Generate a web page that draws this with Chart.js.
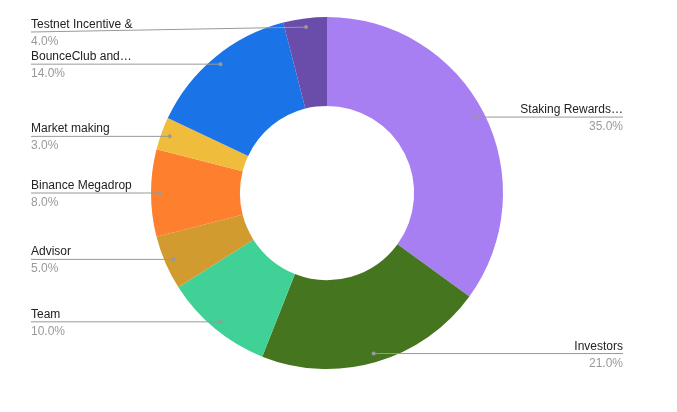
<!DOCTYPE html>
<html>
<head>
<meta charset="utf-8">
<script src="https://cdn.jsdelivr.net/npm/chart.js@4"></script>
<style>
  body { margin: 0; background: #fff; }
  #wrap { width: 677px; height: 412px; }
</style>
</head>
<body>
<div id="wrap"><canvas id="grafico"></canvas></div>
<script>
const etiquetas = ['Staking Rewards\u2026', 'Investors', 'Team', 'Advisor', 'Binance Megadrop', 'Market making', 'BounceClub and\u2026', 'Testnet Incentive &'];
const valores = [35, 21, 10, 5, 8, 3, 14, 4];
const colores = ['#a77ff2', '#45761f', '#3fd195', '#d29b2f', '#fe7f2e', '#f0bc3c', '#1b73e8', '#6a4caa'];

// leader lines + labels, Google Sheets style
const etiquetasPlugin = {
    id: 'etiquetas',
    afterDraw(chart) {
        const ctx = chart.ctx;
        const meta = chart.getDatasetMeta(0);
        const total = valores.reduce((a, b) => a + b, 0);
        ctx.save();
        meta.data.forEach((arc, i) => {
            const ang = (arc.startAngle + arc.endAngle) / 2;
            const r = arc.outerRadius * 0.95;
            const dx = arc.x + Math.cos(ang) * r;
            const dy = arc.y + Math.sin(ang) * r;
            const derecha = dx > arc.x;
            const ly = Math.max(32, dy);
            const lx = derecha ? 623 : 31;
            ctx.strokeStyle = '#999';
            ctx.lineWidth = 1;
            ctx.beginPath();
            ctx.moveTo(dx, dy);
            ctx.lineTo(lx, ly);
            ctx.stroke();
            ctx.fillStyle = '#999';
            ctx.beginPath();
            ctx.arc(dx, dy, 2, 0, Math.PI * 2);
            ctx.fill();
            ctx.textAlign = derecha ? 'right' : 'left';
            ctx.textBaseline = 'alphabetic';
            ctx.font = '12px Arial, "Liberation Sans", sans-serif';
            ctx.fillStyle = '#222';
            ctx.fillText(etiquetas[i], lx, ly - 4);
            ctx.fillStyle = '#999';
            ctx.fillText((valores[i] / total * 100).toFixed(1) + '%', lx, ly + 13);
        });
        ctx.restore();
    }
};

new Chart(document.getElementById('grafico').getContext('2d'), {
    type: 'doughnut',
    data: {
        labels: etiquetas,
        datasets: [{
            data: valores,
            backgroundColor: colores,
            borderWidth: 0
        }]
    },
    options: {
        responsive: true,
        maintainAspectRatio: false,
        animation: false,
        cutout: '49.5%',
        layout: { padding: { top: 17, bottom: 43, left: 151, right: 174 } },
        plugins: {
            legend: { display: false },
            tooltip: { enabled: false }
        }
    },
    plugins: [etiquetasPlugin]
});
</script>
</body>
</html>
